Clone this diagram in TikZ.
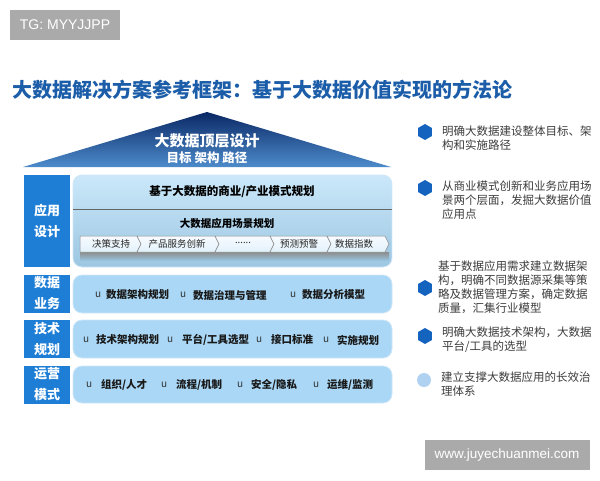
\documentclass[tikz,border=0pt]{standalone}
\usepackage{fontspec}
\setmainfont{Noto Sans CJK SC}
\newfontfamily\latin{Liberation Sans}
\usetikzlibrary{shapes.geometric,positioning}
\definecolor{titleblue}{HTML}{1B5DA8}
\definecolor{roofdark}{HTML}{0A2865}
\definecolor{rooflight}{HTML}{4D8BCB}
\definecolor{labelblue}{HTML}{1E7ED6}
\definecolor{panelblue}{HTML}{A9D7F5}
\definecolor{paneltop}{HTML}{CBE8FA}
\definecolor{panelline}{HTML}{CFE7F8}
\definecolor{hexblue}{HTML}{1463BE}
\definecolor{notegray}{HTML}{3C3C3C}
\definecolor{markgray}{HTML}{AAAAAA}
\newcommand{\Fs}[1]{\fontsize{#1}{#1}\selectfont}

\tikzset{
  mark box/.style={fill=markgray, draw=none},
  side label/.style={fill=labelblue, text=white, font=\Fs{13}\bfseries, align=center,
    inner sep=0, text width=46pt, execute at begin node=\setlength{\baselineskip}{21pt}},
  panel/.style={fill=panelblue, draw=panelline, line width=0.8pt, rounded corners=9pt},
  item/.style={anchor=west, inner sep=0, font=\Fs{10.5}\bfseries, text=black!90},
  bul/.style={anchor=west, inner sep=0, font=\Fs{10}, text=black!80},
  chev/.style={top color=white!92!panelblue, bottom color=white!65!panelblue, draw=black!45, line width=0.5pt},
  chevtext/.style={inner sep=0, font=\Fs{9.5}, text=black!85},
  hexa/.style={regular polygon, regular polygon sides=6, regular polygon rotate=30,
    fill=hexblue, minimum size=16pt, inner sep=0},
  note/.style={anchor=north west, inner sep=0, align=left, font=\Fs{11.5}, text=notegray,
    execute at begin node=\setlength{\baselineskip}{14pt}}
}

\begin{document}
\begin{tikzpicture}[>=latex, x=1pt, y=-1pt]
\useasboundingbox (0,0) rectangle (600,480);

% watermark and title
\fill[mark box] (10,10) rectangle (120,40);
\draw(65,25) node (tg) [text=white, font=\latin\Fs{14}] {TG: MYYJJPP};
\draw(12,90) node (title) [anchor=west, inner sep=0, text=titleblue, font=\Fs{20}\bfseries]
  {大数据解决方案参考框架：基于大数据价值实现的方法论};

% roof
\shade[top color=roofdark, bottom color=rooflight] (207,112) -- (391,167) -- (23,167) -- cycle;
\draw(207,141) node (roof1) [text=white, font=\Fs{15}\bfseries] {大数据顶层设计};
\draw(207,158) node (roof2) [text=white, font=\Fs{12.5}\bfseries] {目标 架构 路径};

% left labels
\draw(47,221) node (lapp) [side label, minimum height=92pt] {应用\\设计};
\draw(47,293.5) node (ldata) [side label, minimum height=38pt] {数据\\业务};
\draw(47,339) node (ltech) [side label, minimum height=38pt] {技术\\规划};
\draw(47,384.5) node (lops) [side label, minimum height=38pt] {运营\\模式};

% application panel
\shade[top color=paneltop, bottom color=panelblue!92!black, rounded corners=9pt] (73,175) rectangle (392,267);
\draw[panelline, line width=0.8pt, rounded corners=9pt] (73,175) rectangle (392,267);
\draw[black!60, line width=0.8pt] (73,209) -- (392,209);
\draw(232,192) node (biz) [inner sep=0, font=\Fs{11.5}\bfseries] {基于大数据的商业/产业模式规划};
\draw(227,223) node (scene) [inner sep=0, font=\Fs{10.5}\bfseries] {大数据应用场景规划};
\shade[top color=black!45, bottom color=panelblue!90!black] (80,252) rectangle (389,260);
\draw[chev] (80,236) -- (137,236) -- (141,244) -- (137,252) -- (80,252) -- cycle;
\draw[chev] (137,236) -- (215,236) -- (219,244) -- (215,252) -- (137,252) -- (141,244) -- cycle;
\draw[chev] (215,236) -- (270,236) -- (274,244) -- (270,252) -- (215,252) -- (219,244) -- cycle;
\draw[chev] (270,236) -- (327,236) -- (331,244) -- (327,252) -- (270,252) -- (274,244) -- cycle;
\draw[chev] (327,236) -- (385,236) -- (389,244) -- (385,252) -- (327,252) -- (331,244) -- cycle;
\draw(111,244) node (s1) [chevtext] {决策支持};
\draw(177,244) node (s2) [chevtext] {产品服务创新};
\draw(243,243) node (s3) [chevtext] {......};
\draw(299,244) node (s4) [chevtext] {预测预警};
\draw(354,244) node (s5) [chevtext] {数据指数};

% data panel
\draw[panel] (73,275) rectangle (392,313);
\draw(95,295) node (b21) [bul] {u};
\draw(106,295) node (d1) [item] {数据架构规划};
\draw(180,295) node (b22) [bul] {u};
\draw(193,295) node (d2) [item] {数据治理与管理};
\draw(290,295) node (b23) [bul] {u};
\draw(302,295) node (d3) [item] {数据分析模型};

% tech panel
\draw[panel] (73,320) rectangle (392,358);
\draw(83,340) node (b31) [bul] {u};
\draw(96,340) node (t1) [item] {技术架构规划};
\draw(167,340) node (b32) [bul] {u};
\draw(182,340) node (t2) [item] {平台/工具选型};
\draw(256,340) node (b33) [bul] {u};
\draw(271,340) node (t3) [item] {接口标准};
\draw(323,340) node (b34) [bul] {u};
\draw(337,340) node (t4) [item] {实施规划};

% ops panel
\draw[panel] (73,366) rectangle (392,403);
\draw(86,385) node (b41) [bul] {u};
\draw(101,385) node (o1) [item] {组织/人才};
\draw(161,385) node (b42) [bul] {u};
\draw(176,385) node (o2) [item] {流程/机制};
\draw(237,385) node (b43) [bul] {u};
\draw(251,385) node (o3) [item] {安全/隐私};
\draw(313,385) node (b44) [bul] {u};
\draw(327,385) node (o4) [item] {运维/监测};

% notes
\draw(425,132) node (h1) [hexa] {};
\draw(442,126) node (n1) [note] {明确大数据建设整体目标、架\\构和实施路径};
\draw(425,188) node (h2) [hexa] {};
\draw(442,181) node (n2) [note] {从商业模式创新和业务应用场\\景两个层面，发掘大数据价值\\应用点};
\draw(425,288) node (h3) [hexa] {};
\draw(438,261) node (n3) [note] {基于数据应用需求建立数据架\\构，明确不同数据源采集等策\\略及数据管理方案，确定数据\\质量，汇集行业模型};
\draw(425,336) node (h4) [hexa] {};
\draw(442,327) node (n4) [note] {明确大数据技术架构，大数据\\平台/工具的选型};
\draw(424,380) node (h5) [circle, fill=labelblue!35, minimum size=14pt, inner sep=0] {};
\draw(441,372) node (n5) [note] {建立支撑大数据应用的长效治\\理体系};

% site mark
\fill[mark box] (425,440) rectangle (590,470);
\draw(507,455) node (site) [text=white, font=\latin\Fs{13.5}] {www.juyechuanmei.com};

\end{tikzpicture}
\end{document}
